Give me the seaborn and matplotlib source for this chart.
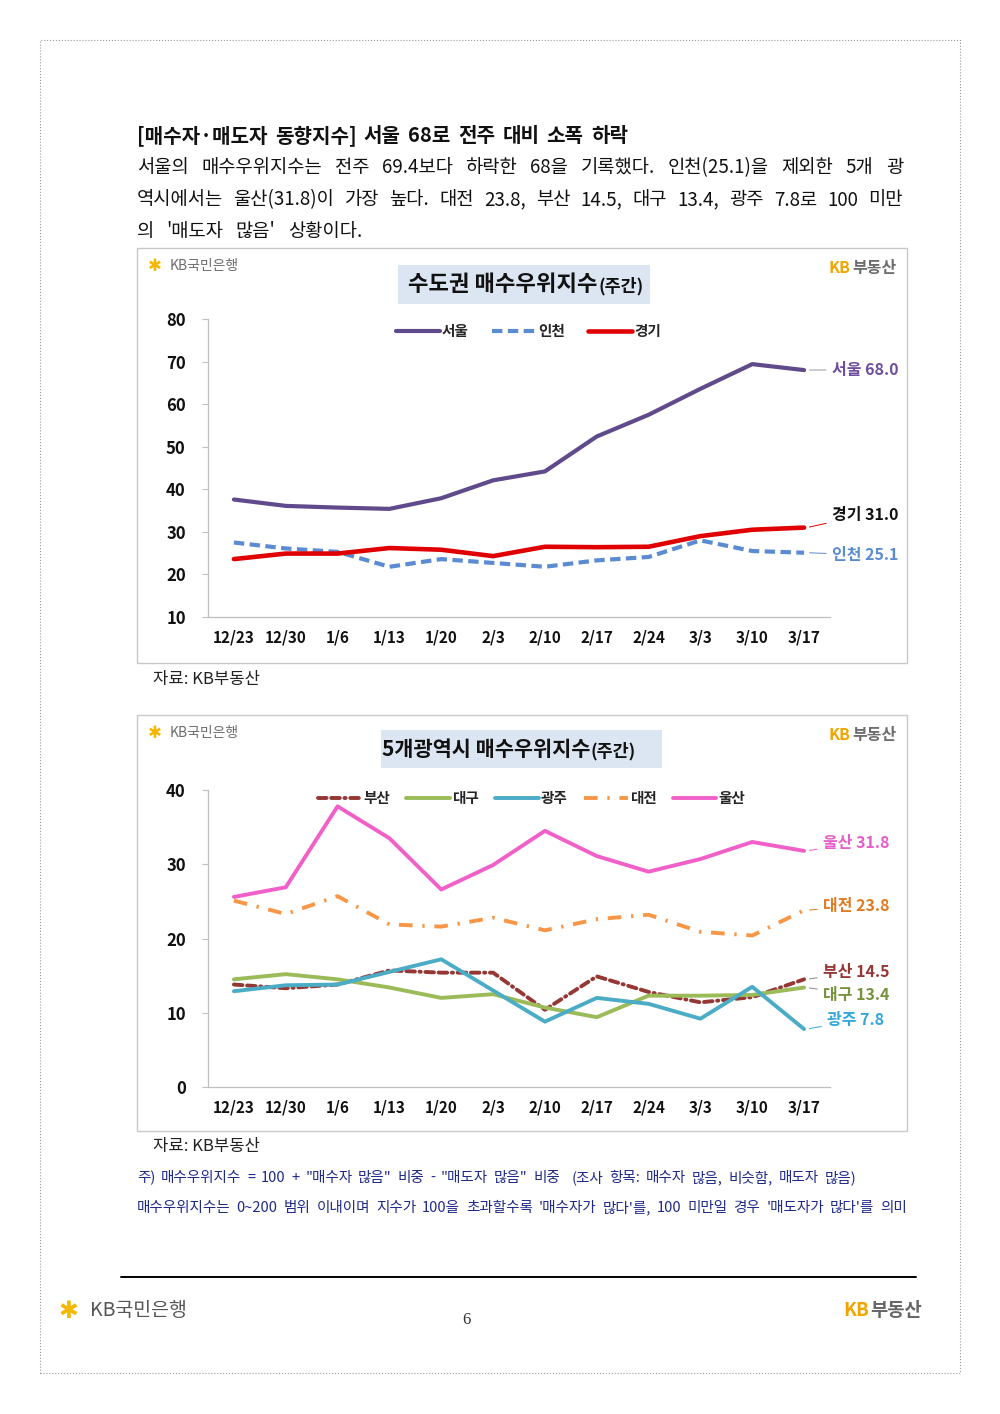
import numpy as np
import matplotlib
matplotlib.use("Agg")
import matplotlib.pyplot as plt
import seaborn as sns
from matplotlib.patches import Rectangle
from matplotlib.lines import Line2D

weeks = ["12/23", "12/30", "1/6", "1/13", "1/20", "2/3", "2/10", "2/17", "2/24", "3/3", "3/10", "3/17"]

# 수도권
seoul = [37.6, 36.1, 35.7, 35.4, 37.9, 42.1, 44.2, 52.4, 57.5, 63.6, 69.4, 68.0]
incheon = [27.5, 26.1, 25.3, 21.8, 23.6, 22.7, 21.8, 23.3, 24.1, 28.0, 25.5, 25.1]
gyeonggi = [23.6, 24.9, 24.9, 26.2, 25.8, 24.3, 26.5, 26.4, 26.5, 29.0, 30.5, 31.0]

# 5개 광역시
busan = [13.8, 13.3, 13.8, 15.7, 15.4, 15.4, 10.4, 14.9, 12.8, 11.4, 12.1, 14.5]
daegu = [14.5, 15.2, 14.5, 13.4, 12.0, 12.5, 10.7, 9.4, 12.3, 12.3, 12.4, 13.4]
gwangju = [12.9, 13.7, 13.8, 15.5, 17.2, 13.0, 8.8, 12.0, 11.2, 9.2, 13.5, 7.8]
daejeon = [25.1, 23.3, 25.7, 21.9, 21.6, 22.8, 21.1, 22.6, 23.2, 20.9, 20.4, 23.8]
ulsan = [25.6, 26.9, 37.8, 33.5, 26.6, 29.9, 34.5, 31.1, 29.0, 30.7, 33.0, 31.8]

sns.set_theme(style="white")
FONT = ["Noto Sans CJK KR", "DejaVu Sans"]
plt.rcParams["font.family"] = FONT
plt.rcParams["axes.unicode_minus"] = False

fig = plt.figure(figsize=(10, 14.14), dpi=100)
fig.patch.set_facecolor("white")


def X(px):
    return px / 1000


def Y(py):
    return 1 - py / 1414


def box(x0, y0, x1, y1, **kw):
    fig.patches.append(Rectangle((X(x0), Y(y1)), X(x1 - x0), (y1 - y0) / 1414,
                                 transform=fig.transFigure, **kw))


def justify(text, y, x0, x1, size, weight="normal", color="#111"):
    # spread words so the line runs from x0 to x1 (pixels)
    words = text.split(" ")
    r = fig.canvas.get_renderer()
    objs = [fig.text(0, Y(y), w, fontsize=size, va="center", weight=weight, color=color) for w in words]
    widths = [o.get_window_extent(r).width for o in objs]
    gap = ((x1 - x0) - sum(widths)) / (len(words) - 1)
    x = x0
    for o, w in zip(objs, widths):
        o.set_x(X(x))
        x += w + gap


# page frame
box(40, 40, 960, 1373, fill=False, ec="#999999", lw=0.8, ls=":")

# heading + paragraph
justify("[매수자·매도자 동향지수] 서울 68로 전주 대비 소폭 하락", 136, 137, 628, 14.5, weight="bold")
justify("서울의 매수우위지수는 전주 69.4보다 하락한 68을 기록했다. 인천(25.1)을 제외한 5개 광", 168, 137, 903, 13.5)
justify("역시에서는 울산(31.8)이 가장 높다. 대전 23.8, 부산 14.5, 대구 13.4, 광주 7.8로 100 미만", 200, 137, 903, 13.5)
justify("의 '매도자 많음' 상황이다.", 231, 137, 362, 13.5)


def logos(top):
    fig.text(X(148), Y(top), "✱", fontsize=12, color="#f5b800", va="center", weight="bold")
    fig.text(X(170), Y(top), "KB국민은행", fontsize=10, color="#6d6d6d", va="center")
    fig.text(X(828), Y(top + 2), "KB", fontsize=11.5, color="#f0a500", va="center", weight="bold")
    fig.text(X(852), Y(top + 2), "부동산", fontsize=11.5, color="#6d6d6d", va="center", weight="bold")


def title(x0, x1, y0, y1, main, split, size):
    box(x0, y0, x1, y1, fc="#dce6f2", ec="none")
    yc = (y0 + y1) / 2
    fig.text(X(split), Y(yc), main, fontsize=size, weight="bold", ha="right", va="center", color="#111")
    fig.text(X(split + 1), Y(yc + 2), "(주간)", fontsize=12.5, weight="bold", ha="left", va="center", color="#111")


def style_axes(ax, ylim, step):
    n = len(weeks)
    ax.set_xlim(-0.5, n - 0.5)
    ax.set_ylim(*ylim)
    ax.set_yticks(np.arange(ylim[0], ylim[1] + 1, step))
    ax.set_xticks(range(n))
    ax.set_xticklabels(weeks)
    ax.set_xticks(np.arange(-0.5, n, 1), minor=True)
    ax.tick_params(axis="x", which="major", length=0, pad=9, labelsize=11)
    ax.tick_params(axis="x", which="minor", length=5, color="#bfbfbf", width=0.8, direction="out")
    ax.tick_params(axis="y", length=4, color="#bfbfbf", width=0.8, pad=12, labelsize=12, left=True)
    for lab in ax.get_xticklabels() + ax.get_yticklabels():
        lab.set_fontweight("bold")
        lab.set_color("#111")
    for s in ["top", "right"]:
        ax.spines[s].set_visible(False)
    for s in ["left", "bottom"]:
        ax.spines[s].set_color("#bfbfbf")
        ax.spines[s].set_linewidth(0.9)
    ax.set_xlabel("")
    ax.set_ylabel("")
    ax.set_facecolor("white")
    ax.grid(False)


def add_label(ax, text, v_end, v_text, x_text, color, line_color=None):
    ax.annotate(text, xy=(11.05, v_end), xytext=(x_text, v_text), textcoords="data",
                fontsize=11.5, weight="bold", color=color, ha="left", va="center",
                annotation_clip=False,
                arrowprops=dict(arrowstyle="-", color=line_color or color, lw=0.7, shrinkA=2, shrinkB=2))


xs = np.arange(len(weeks))

# ---------------- chart 1 ----------------
box(137, 248, 907, 663, fill=False, ec="#c8c8c8", lw=1.0)
logos(266)
title(398, 650, 265, 304, "수도권 매수우위지수", 598, 16)

ax1 = fig.add_axes([X(208), Y(617), X(830 - 208), (617 - 319) / 1414])
sns.lineplot(x=xs, y=seoul, ax=ax1, color="#5f4b8b", linewidth=3, label="서울")
sns.lineplot(x=xs, y=incheon, ax=ax1, color="#5b8bd0", linewidth=3, linestyle=(0, (2.5, 1.3)), label="인천")
sns.lineplot(x=xs, y=gyeonggi, ax=ax1, color="#e00000", linewidth=3.3, label="경기")
style_axes(ax1, (10, 80), 10)
ax1.legend(loc="upper center", bbox_to_anchor=(0.515, 1.03), ncol=3, frameon=False,
           handlelength=3, handletextpad=0.15, columnspacing=1.6,
           prop=dict(family=FONT, weight="bold", size=10.5))
add_label(ax1, f"서울 {seoul[-1]:.1f}", seoul[-1], 68.1, 11.54, "#6f4ea0", "#999999")
add_label(ax1, f"경기 {gyeonggi[-1]:.1f}", gyeonggi[-1], 34.0, 11.54, "#111111", "#e00000")
add_label(ax1, f"인천 {incheon[-1]:.1f}", incheon[-1], 24.6, 11.54, "#5b8bd0")

fig.text(X(153), Y(680), "자료: KB부동산", fontsize=12, va="center", color="#222")

# ---------------- chart 2 ----------------
box(137, 715, 907, 1131, fill=False, ec="#c8c8c8", lw=1.0)
logos(733)
title(381, 662, 730, 768, "5개광역시 매수우위지수", 590, 15)

ax2 = fig.add_axes([X(208), Y(1087), X(830 - 208), (1087 - 790) / 1414])
sns.lineplot(x=xs, y=busan, ax=ax2, color="#953735", linewidth=2.8,
             linestyle=(0, (2.2, 1.2, 2.2, 1.2, 0.3, 1.2)), dash_capstyle="round", label="부산")
sns.lineplot(x=xs, y=daegu, ax=ax2, color="#9bbb59", linewidth=2.8, label="대구")
sns.lineplot(x=xs, y=gwangju, ax=ax2, color="#4bacc6", linewidth=2.8, label="광주")
sns.lineplot(x=xs, y=daejeon, ax=ax2, color="#f79646", linewidth=2.8,
             linestyle=(0, (3.5, 2.5, 0.6, 2.5)), label="대전")
sns.lineplot(x=xs, y=ulsan, ax=ax2, color="#f060c8", linewidth=2.8, label="울산")
style_axes(ax2, (0, 40), 10)
ax2.legend(loc="upper center", bbox_to_anchor=(0.52, 1.045), ncol=5, frameon=False,
           handlelength=3, handletextpad=0.15, columnspacing=1.1,
           prop=dict(family=FONT, weight="bold", size=10.5))
add_label(ax2, f"울산 {ulsan[-1]:.1f}", ulsan[-1], 32.9, 11.37, "#e85ccc")
add_label(ax2, f"대전 {daejeon[-1]:.1f}", daejeon[-1], 24.4, 11.37, "#e07b22")
add_label(ax2, f"부산 {busan[-1]:.1f}", busan[-1], 15.5, 11.37, "#953735", "#888888")
add_label(ax2, f"대구 {daegu[-1]:.1f}", daegu[-1], 12.4, 11.37, "#76923c", "#888888")
add_label(ax2, f"광주 {gwangju[-1]:.1f}", gwangju[-1], 9.0, 11.45, "#31a8d8")

fig.text(X(153), Y(1147), "자료: KB부동산", fontsize=12, va="center", color="#222")

# notes
justify("주) 매수우위지수 = 100 + \"매수자 많음\" 비중 - \"매도자 많음\" 비중  (조사 항목: 매수자 많음, 비슷함, 매도자 많음)",
        1178, 137, 856, 10.5, color="#1f2a8a")
justify("매수우위지수는 0~200 범위 이내이며 지수가 100을 초과할수록 '매수자가 많다'를, 100 미만일 경우 '매도자가 많다'를 의미",
        1208, 137, 907, 10.5, color="#1f2a8a")

# footer
fig.add_artist(Line2D([X(121), X(916)], [Y(1277), Y(1277)], color="black", lw=1.4, transform=fig.transFigure))
fig.text(X(58), Y(1311), "✱", fontsize=17, color="#f5b800", va="center", weight="bold")
fig.text(X(90), Y(1311), "KB국민은행", fontsize=14, color="#555", va="center")
fig.text(X(466), Y(1320), "6", fontsize=12, family="Liberation Serif", va="center", ha="center", color="#333")
fig.text(X(843), Y(1310), "KB", fontsize=13.5, color="#f0a500", va="center", weight="bold")
fig.text(X(870), Y(1310), "부동산", fontsize=13.5, color="#666", va="center", weight="bold")

fig.savefig("out.png", dpi=100, facecolor="white")
